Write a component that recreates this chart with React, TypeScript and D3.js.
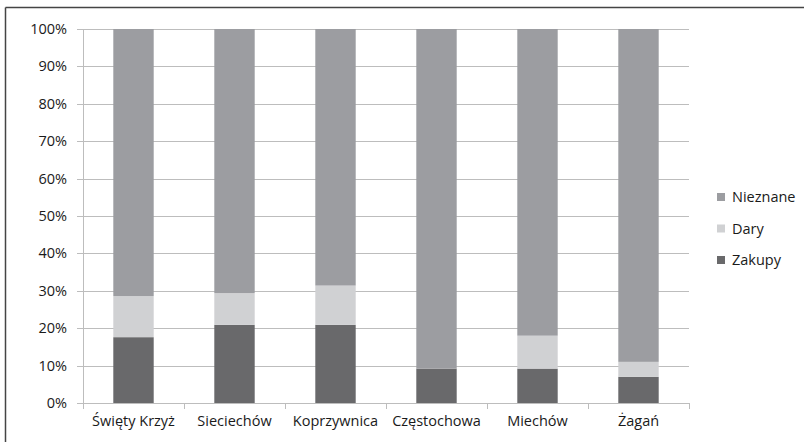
import React from "react";
import * as d3 from "d3";

const categories = ["Święty Krzyż", "Sieciechów", "Koprzywnica", "Częstochowa", "Miechów", "Żagań"];
const zakupy = [17.6, 20.9, 20.9, 9.2, 9.2, 7.0];
const dary = [11.0, 8.5, 10.5, 0, 8.8, 4.0];
const nieznane = zakupy.map((z, i) => 100 - z - dary[i]);
const seriesNames = ["Zakupy", "Dary", "Nieznane"];
const seriesColors = ["#69696b", "#d0d1d3", "#9c9da1"];
const yTicks = [0, 10, 20, 30, 40, 50, 60, 70, 80, 90, 100];

const W = 804;
const H = 442;
const FONT = "'Open Sans', sans-serif";
const FS = 14.5;

export default function App() {
  const x = d3.scaleBand<string>().domain(categories).range([83, 689]).paddingInner(0.6).paddingOuter(0.3);
  const y = d3.scaleLinear().domain([0, 100]).range([403, 29]);
  const rows = categories.map((c, i) => ({ cat: c, Zakupy: zakupy[i], Dary: dary[i], Nieznane: nieznane[i] }));
  const stacked = d3.stack<any>().keys(seriesNames)(rows);
  const step = (689 - 83) / categories.length;
  const bounds = d3.range(categories.length + 1).map((i) => 83 + i * step);

  return (
    <svg width={W} height={H} style={{ position: "absolute", left: 0, top: 0 }} fontFamily={FONT}>
      <rect x={0} y={0} width={W} height={H} fill="#fff" />
      <line x1={5.5} x2={W} y1={7.5} y2={7.5} stroke="#444" strokeWidth={1.5} />
      <line x1={5.5} x2={5.5} y1={7.5} y2={H} stroke="#444" strokeWidth={1.5} />
      {yTicks.map((t) => (
        <g key={t}>
          <line x1={77} x2={689} y1={Math.round(y(t)) + 0.5} y2={Math.round(y(t)) + 0.5} stroke="#bdbdbd" strokeWidth={1} />
          <text x={67} y={y(t)} dy="0.35em" textAnchor="end" fontSize={FS} fill="#1a1a1a">{t}%</text>
        </g>
      ))}
      <line x1={83.5} x2={83.5} y1={y(100)} y2={y(0)} stroke="#bdbdbd" />
      {bounds.map((b, i) => (
        <line key={i} x1={Math.round(b) + 0.5} x2={Math.round(b) + 0.5} y1={403} y2={409} stroke="#bdbdbd" />
      ))}
      {stacked.map((s, si) => (
        <g key={s.key} fill={seriesColors[si]}>
          {s.map((d, i) => (
            <rect key={i} x={x(categories[i])} width={x.bandwidth()} y={y(d[1])} height={Math.max(0, y(d[0]) - y(d[1]))} />
          ))}
        </g>
      ))}
      {categories.map((c) => (
        <text key={c} x={(x(c) as number) + x.bandwidth() / 2} y={426} textAnchor="middle" fontSize={FS} fill="#1a1a1a">{c}</text>
      ))}
      {["Nieznane", "Dary", "Zakupy"].map((n, i) => {
        const si = seriesNames.indexOf(n);
        const cy = 197 + i * 31.5;
        return (
          <g key={n}>
            <rect x={717} y={cy - 4} width={8} height={8} fill={seriesColors[si]} />
            <text x={732} y={cy} dy="0.35em" fontSize={FS} fill="#1a1a1a">{n}</text>
          </g>
        );
      })}
    </svg>
  );
}
